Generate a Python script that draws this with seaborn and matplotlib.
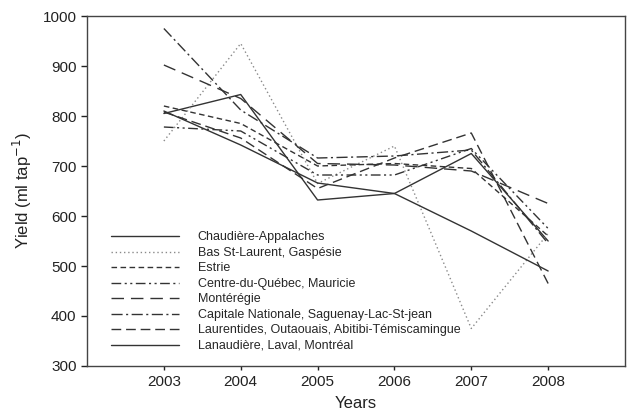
import matplotlib
matplotlib.use("Agg")
import matplotlib.pyplot as plt
import seaborn as sns
import pandas as pd

years = [2003, 2004, 2005, 2006, 2007, 2008]
regions = [
    "Chaudière-Appalaches",
    "Bas St-Laurent, Gaspésie",
    "Estrie",
    "Centre-du-Québec, Mauricie",
    "Montérégie",
    "Capitale Nationale, Saguenay-Lac-St-jean",
    "Laurentides, Outaouais, Abitibi-Témiscamingue",
    "Lanaudière, Laval, Montréal",
]
chaudiere = [805, 843, 632, 645, 725, 550]
bas_st_laurent = [750, 945, 665, 740, 375, 565]
estrie = [820, 785, 700, 705, 695, 560]
centre_quebec = [778, 770, 682, 682, 735, 575]
monteregie = [902, 835, 705, 702, 690, 625]
capitale = [975, 812, 716, 720, 732, 545]
laurentides = [808, 756, 655, 716, 766, 465]
lanaudiere = [810, 742, 666, 645, 570, 490]
series = [chaudiere, bas_st_laurent, estrie, centre_quebec, monteregie,
          capitale, laurentides, lanaudiere]

df = pd.DataFrame(
    [(r, y, v) for r, vals in zip(regions, series) for y, v in zip(years, vals)],
    columns=["Region", "Year", "Yield"],
)

sns.set_style("ticks")
plt.rcParams["font.family"] = ["Liberation Sans", "DejaVu Sans"]

dark = "#333333"
palette = {r: dark for r in regions}
palette["Bas St-Laurent, Gaspésie"] = "#8a8a8a"
dashes = {
    "Chaudière-Appalaches": "",
    "Bas St-Laurent, Gaspésie": (1, 2),
    "Estrie": (4, 2.5),
    "Centre-du-Québec, Mauricie": (7, 2.5, 1.5, 2.5, 1.5, 2.5),
    "Montérégie": (9, 5),
    "Capitale Nationale, Saguenay-Lac-St-jean": (8, 2.5, 1.5, 2.5),
    "Laurentides, Outaouais, Abitibi-Témiscamingue": (7, 3.5),
    "Lanaudière, Laval, Montréal": "",
}

fig = plt.figure(figsize=(6.27, 4.16), dpi=100)
ax = fig.add_axes([0.1388, 0.1202, 0.8580, 0.8413])
sns.lineplot(data=df, x="Year", y="Yield", hue="Region", style="Region",
             hue_order=regions, style_order=regions,
             palette=palette, dashes=dashes, linewidth=1.0, ax=ax)

ax.set_xlim(2002, 2009)
ax.set_ylim(300, 1000)
ax.set_xticks(years)
ax.set_xticklabels([str(y) for y in years])
ax.set_yticks(range(300, 1001, 100))
ax.tick_params(axis="both", labelsize=11, direction="out", length=4,
               width=1, color="#222222", labelcolor="#222222")
ax.tick_params(axis="x", length=3)
ax.set_xlabel("Years", fontsize=12, color="#222222", labelpad=5)
ax.set_ylabel("Yield (ml tap$^{-1}$)", fontsize=12, color="#222222", labelpad=6)
for s in ax.spines.values():
    s.set_color("#444444")
    s.set_linewidth(1.0)
    s.set_visible(True)

handles, labels = ax.get_legend_handles_labels()
ax.legend(handles, labels, loc="lower left", bbox_to_anchor=(0.044, 0.04),
          frameon=False, fontsize=9, handlelength=5.45, handletextpad=1.5,
          labelspacing=0.28, borderpad=0, borderaxespad=0)
fig.savefig("out.png", dpi=100)
